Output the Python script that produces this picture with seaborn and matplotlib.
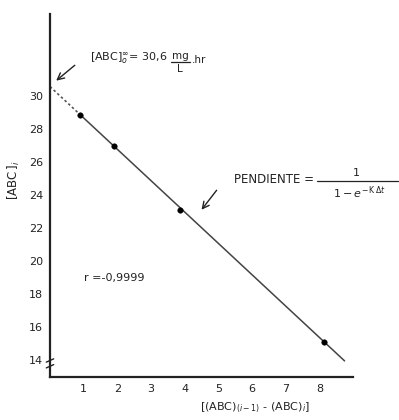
import numpy as np
import pandas as pd
import matplotlib
matplotlib.use("Agg")
import matplotlib.pyplot as plt
import seaborn as sns

# Measured points: difference between successive concentrations vs concentration
x_diff = [0.9, 1.9, 3.85, 8.15]
abc_i = [28.9, 27.0, 23.1, 15.1]

# Fitted line: intercept at the y axis and slope
intercept = 30.6
slope = -1.9
x_first = 0.9     # dotted extrapolation ends here
x_end = 8.75      # solid line ends here

y_ticks = [14, 16, 18, 20, 22, 24, 26, 28, 30]
x_ticks = [1, 2, 3, 4, 5, 6, 7, 8]

sns.set_theme(style="white")
plt.rcParams["font.family"] = ["DejaVu Sans"]
INK = "#222222"

fig = plt.figure(figsize=(3.99, 4.20), dpi=100)
ax = fig.add_axes([0.1253, 0.1024, 0.7594, 0.8643])

pts = pd.DataFrame({"x": x_diff, "y": abc_i})
ext = pd.DataFrame({"x": [0.0, x_first]})
ext["y"] = intercept + slope * ext["x"]
fit = pd.DataFrame({"x": [x_first, x_end]})
fit["y"] = intercept + slope * fit["x"]

sns.lineplot(data=ext, x="x", y="y", ax=ax, color="#555555", lw=1.2,
             linestyle=(0, (1.5, 1.5)))
sns.lineplot(data=fit, x="x", y="y", ax=ax, color="#444444", lw=1.1)
sns.scatterplot(data=pts, x="x", y="y", ax=ax, color="black", s=16,
                edgecolor="black", zorder=5)

ax.set_xlim(0, 9.0)
ax.set_ylim(13, 35)
ax.set_xticks(x_ticks)
ax.set_yticks(y_ticks)
ax.set_xticklabels([str(v) for v in x_ticks], fontsize=8)
ax.set_yticklabels([str(v) for v in y_ticks], fontsize=8)
ax.tick_params(axis="both", direction="out", length=2, width=1,
               color=INK, pad=3, labelcolor=INK)
ax.set_xlabel("")
ax.set_ylabel("")

for s in ["top", "right"]:
    ax.spines[s].set_visible(False)
for s in ["left", "bottom"]:
    ax.spines[s].set_color(INK)
    ax.spines[s].set_linewidth(1.6)

# axis break marks near the bottom of the y axis
for dy in (0.0, 0.35):
    ax.plot([-0.11, 0.11], [13.55 + dy, 13.75 + dy], color=INK,
            lw=1.0, clip_on=False, zorder=6)

# y-axis label
fig.text(0.035, 0.57, r"$[\mathrm{ABC}\,]_i$", rotation=90, fontsize=8.5,
         ha="center", va="center", color=INK)
# x-axis label
fig.text(0.64, 0.028, r"$[(\mathrm{ABC})_{(i-1)}$ - $(\mathrm{ABC})_i]$",
         fontsize=8, ha="center", va="center", color=INK)

# intercept annotation with a stacked mg/L fraction
ax.annotate("", xy=(0.12, 30.85), xytext=(0.8, 32.0),
            arrowprops=dict(arrowstyle="->", color=INK, lw=1.0))
ax.text(3.5, 32.33, r"$[\mathrm{ABC}]_{o}^{\infty}$= 30,6",
        fontsize=8, va="center", ha="right", color=INK)
ax.plot([3.59, 4.15], [32.07, 32.07], color=INK, lw=0.9, clip_on=False)
ax.text(3.87, 32.15, "mg", fontsize=7.5, va="bottom", ha="center", color=INK)
ax.text(3.87, 31.98, "L", fontsize=7.5, va="top", ha="center", color=INK)
ax.text(4.2, 32.2, ".hr", fontsize=7.5, va="center", ha="left", color=INK)

# slope annotation with a stacked fraction
ax.annotate("", xy=(4.45, 23.0), xytext=(5.0, 24.45),
            arrowprops=dict(arrowstyle="->", color=INK, lw=1.0))
ax.text(7.85, 24.95, "PENDIENTE =", fontsize=8.5, va="center", ha="right",
        color=INK)
ax.plot([7.92, 10.34], [24.88, 24.88], color=INK, lw=0.9, clip_on=False)
ax.text(9.1, 25.05, "1", fontsize=8, va="bottom", ha="center", color=INK,
        clip_on=False)
ax.text(9.2, 24.65, r"$1 - e^{-\,\mathrm{K}\,\Delta t}$", fontsize=8,
        va="top", ha="center", color=INK, clip_on=False)

# correlation coefficient
ax.text(1.0, 19.0, "r =-0,9999", fontsize=8, va="center", ha="left",
        color=INK)

fig.savefig("out.png", dpi=100)
